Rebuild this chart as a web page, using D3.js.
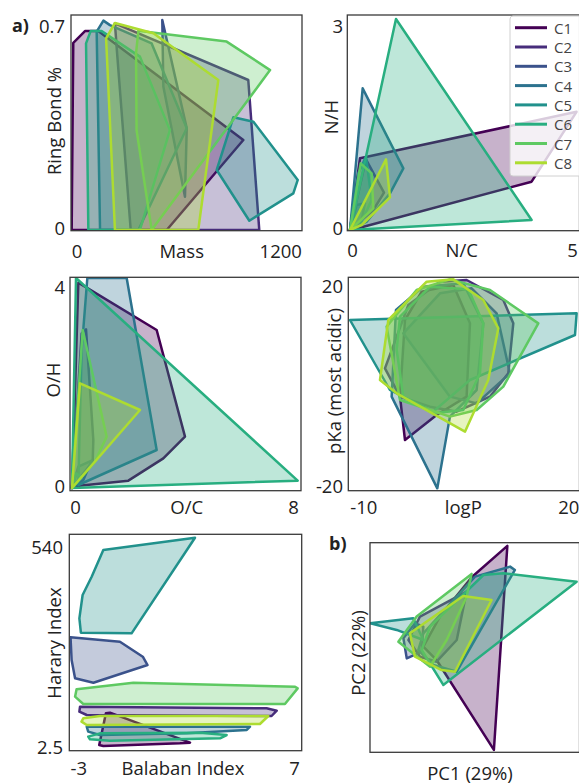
<!DOCTYPE html>
<html><head><meta charset="utf-8">
<script src="https://cdn.jsdelivr.net/npm/d3@7"></script>
<style>body{margin:0;background:#fff}svg{display:block}text{font-family:"Open Sans",sans-serif;fill:#222}</style>
</head><body><svg id="c" width="579" height="783"></svg>
<script>
const classes = ["C1","C2","C3","C4","C5","C6","C7","C8"];

// Panel 1: Mass vs Ring Bond %
const massTicks = [0, 1200];
const ringTicks = [0, 0.7];
const massRingHulls = [
  [[1,0],[10,0.624],[76,0.663],[151,0.663],[969,0.30],[537,0]],
  [[245,0.689],[997,0.50],[1059,0],[334,0],[255,0.606]],
  [[512,0.70],[650,0.339],[640,0.111],[518,0.478]],
  [[180,0.698],[217,0.683],[452,0.622],[650,0.339],[377,0],[161,0],[142,0.661]],
  [[913,0.376],[1026,0.361],[1276,0.167],[1251,0.122],[1003,0.031],[819,0.2]],
  [[82,0.622],[108,0.663],[170,0.663],[386,0.578],[555,0.333],[386,0],[95,0]],
  [[377,0.664],[490,0.656],[875,0.628],[1120,0.533],[452,0],[367,0.333],[364,0.589]],
  [[245,0.69],[462,0.656],[828,0.5],[715,0],[245,0],[195,0.639]]
];

// Panel 2: N/C vs N/H
const ncTicks = [0, 5];
const nhTicks = [0, 3];
const ncNhHulls = [
  [[0,0],[0.22,1.02],[4.99,1.68],[4.0,0.687],[0.257,0.038]],
  [[0,0],[0.352,1.005],[0.749,0.531],[0.514,0.284]],
  [[0,0],[0.147,0.355],[0.33,0.379],[0.257,0.142]],
  [[0,0],[0.279,2.014],[1.175,0.877],[0.881,0.521],[0.367,0.118]],
  [[0,0],[0.184,0.806],[0.352,1.043],[0.477,0.427],[0.22,0.071]],
  [[0,0],[1.013,3.0],[4.0,0.142]],
  [[0,0],[0.235,0.948],[0.477,0.806],[0.514,0.308]],
  [[0,0],[0.793,1.005],[0.881,0.464],[0.257,0.071]]
];

// Panel 3: O/C vs O/H
const ocTicks = [0, 8];
const ohTicks = [0, 4];
const ocOhHulls = [
  [[0,0],[0.224,3.911],[2.997,3.01],[4.0,0.978],[3.233,0.565],[1.994,0.14],[0.165,0.038]],
  [[0,0],[0.342,2.946],[0.496,3.022],[0.755,0.914],[0.732,0.502]],
  [[0,0],[0.224,0.406],[0.696,0.521],[0.401,0.152]],
  [[0.543,4.0],[1.935,4.0],[2.997,0.724],[0.224,0.057],[0.342,2.629]],
  [[0,0],[0.142,0.279],[0.342,0.203]],
  [[0,0],[0.142,4.0],[7.988,0.14]],
  [[0,0],[0.378,3.01],[1.227,0.978],[0.814,0.502]],
  [[0,0],[0.283,1.994],[2.407,1.486]]
];

// Panel 4: logP vs pKa (most acidic)
const logpTicks = [-10, 20];
const pkaTicks = [-20, 20];
const logpPkaHulls = [
  [[-3.9,-11.0],[-4.63,-2.33],[-3.9,13.0],[-1.46,18.67],[3.17,20.0],[5.61,12.33],[5.12,-2.33],[0.73,-6.0]],
  [[-6.83,3.33],[-3.41,16.0],[1.22,20.67],[5.12,21.0],[10.49,17.0],[11.95,12.33],[11.22,2.33],[8.54,-2.33],[3.66,-5.33],[-0.24,-4.33],[-4.63,-2.33]],
  [[-4.15,10.33],[1.22,18.33],[5.85,19.33],[9.51,14.33],[11.46,2.33],[6.59,-3.67],[2.68,-2.33]],
  [[-5.85,-2.33],[-5.22,15.0],[-1.22,19.67],[4.63,20.33],[7.56,12.33],[6.59,-1.0],[2.68,-6.33],[0.83,-20.67]],
  [[-11.95,13.0],[21.22,14.33],[20.98,10.0],[5.61,1.0],[0.24,-5.33],[-6.1,-1.0]],
  [[-4.63,13.67],[-0.24,19.67],[5.37,19.13],[7.56,12.33],[7.07,2.33],[4.63,-5.0],[0.24,-5.67],[-4.15,-2.33],[-5.12,7.0]],
  [[-6.59,11.67],[-2.2,19.0],[2.68,21.13],[8.54,19.0],[15.61,12.33],[10.49,-0.33],[6.59,-5.0],[2.68,-6.33],[-4.63,-3.0]],
  [[-7.56,1.0],[-6.34,13.0],[-0.73,20.67],[3.17,21.13],[7.56,17.0],[9.76,11.33],[8.29,1.0],[4.88,-9.33],[-5.12,-1.67]]
];

// Panel 5: Balaban Index vs Harary Index
const balabanTicks = [-3, 7];
const hararyTicks = [2.5, 540];
const balabanHararyHulls = [
  [[-1.72,90.2],[-1.53,92.0],[2.18,11.5],[1.71,9.7],[-1.84,2.5],[-2.03,5.2]],
  [[-2.92,108.1],[5.73,103.6],[6.2,97.3],[5.96,83.0],[-2.61,85.7],[-2.95,94.6]],
  [[-3.36,294.1],[-1.07,282.4],[-0.01,242.2],[0.21,219.8],[-2.30,172.4],[-3.15,184.1],[-3.31,233.3]],
  [[-2.61,54.4],[4.96,54.4],[4.81,45.5],[2.02,36.5],[-2.0,32.0],[-2.54,41.0]],
  [[-1.84,528.4],[2.41,561.5],[-0.53,304.8],[-2.88,306.6],[-2.95,345.0],[-2.80,407.6],[-2.38,456.8]],
  [[-2.54,27.6],[-2.0,36.5],[2.64,38.3],[3.88,32.0],[3.57,23.1],[-1.53,16.8],[-2.46,20.4]],
  [[-3.08,154.6],[-0.45,172.4],[7.05,161.7],[7.17,157.2],[6.58,115.2],[-2.77,115.2],[-3.15,134.9]],
  [[-2.77,76.8],[-2.0,83.0],[5.81,83.0],[5.42,61.6],[-2.61,58.9],[-2.85,67.8]]
];

// Panel 6: PCA scores (PC1 29%, PC2 22%)
const pcaHulls = [
  [[3.54,4.86],[2.9,-4.9],[0.17,-0.6],[-0.46,0.04],[0.33,1.48],[1.84,3.36]],
  [[-1.17,0.36],[-0.62,1.48],[1.6,2.67],[1.13,0.36],[0.17,-0.68],[-0.62,-0.44]],
  [[-1.41,0.44],[-1.25,-0.52],[-0.54,-0.2],[-0.46,1.0],[-0.86,1.16]],
  [[-0.46,0.68],[2.0,3.39],[3.67,3.87],[3.9,3.71],[1.13,-1.16],[0.02,-0.84],[-0.7,-0.12]],
  [[-3.0,1.16],[-0.94,1.4],[-0.46,0.36],[-1.73,0.84]],
  [[-0.14,1.0],[2.4,3.47],[3.35,3.55],[6.84,3.15],[0.49,-1.79],[-0.54,-0.12]],
  [[-1.65,0.28],[-0.78,1.48],[1.84,3.52],[1.6,2.43],[0.65,0.36],[-0.14,-0.92]],
  [[-1.1,0.68],[1.44,2.46],[2.79,2.27],[1.05,-1.16],[0.41,-1.08],[-0.86,-0.44]]
];

const color = d3.scaleOrdinal().domain(classes)
  .range(classes.map((c,i)=>d3.interpolateViridis(i/8)));

const svg = d3.select("#c");
const FS = 18.5;

function panel(o){
  const [x0,y0,x1,y1] = o.frame;
  const x = d3.scaleLinear().domain(o.xDomain).range(o.xRange);
  const y = d3.scaleLinear().domain(o.yDomain).range(o.yRange);
  const g = svg.append("g");
  const id = "clip"+o.id;
  g.append("clipPath").attr("id",id).append("rect")
    .attr("x",x0).attr("y",y0).attr("width",x1-x0).attr("height",y1-y0);
  const line = d3.line().x(d=>x(d[0])).y(d=>y(d[1])).curve(d3.curveLinearClosed);
  g.append("g").attr("clip-path",`url(#${id})`)
    .selectAll("path").data(o.hulls).join("path")
    .attr("d",d=>line(d))
    .attr("fill",(d,i)=>color(classes[i])).attr("fill-opacity",0.3)
    .attr("stroke",(d,i)=>color(classes[i])).attr("stroke-width",2.5)
    .attr("stroke-linejoin","round");
  g.append("rect").attr("x",x0).attr("y",y0).attr("width",x1-x0).attr("height",y1-y0)
    .attr("fill","none").attr("stroke","#3a3a3a").attr("stroke-width",1.3);
  if (o.xTicks){
    const ax = g.append("g").attr("transform",`translate(0,${o.xLabelY})`)
      .call(d3.axisBottom(x).tickValues(o.xTicks).tickSize(0).tickFormat(d=>String(d)));
    ax.attr("font-size",null).attr("font-family",null);
    ax.select(".domain").remove();
    ax.selectAll("text").attr("y",0).attr("dy",null).attr("dominant-baseline","central")
      .attr("dx",(d,i)=>(o.xDx||[])[i]||0).style("font-size",FS+"px").attr("fill","#222");
  }
  if (o.yTicks){
    const ay = g.append("g").attr("transform",`translate(${o.yLabelX},0)`)
      .call(d3.axisLeft(y).tickValues(o.yTicks).tickSize(0).tickFormat(d=>String(d)));
    ay.attr("font-size",null).attr("font-family",null);
    ay.select(".domain").remove();
    ay.selectAll("text").attr("x",0).attr("dy",null).attr("dominant-baseline","central")
      .attr("transform",(d,i)=>`translate(0,${(o.yDy||[])[i]||0})`)
      .style("font-size",FS+"px").attr("fill","#222");
  }
  g.append("text").attr("x",o.xTitle[1]).attr("y",o.xTitle[2]).attr("text-anchor","middle")
    .attr("dominant-baseline","central").style("font-size",FS+"px").text(o.xTitle[0]);
  g.append("text").attr("transform",`translate(${o.yTitle[1]},${o.yTitle[2]}) rotate(-90)`)
    .attr("text-anchor","middle").attr("dominant-baseline","central")
    .style("font-size",FS+"px").text(o.yTitle[0]);
  return {x,y};
}

panel({id:1, frame:[71,15,302,230.7], hulls:massRingHulls,
  xDomain:[0,1300], xRange:[71.5,302], yDomain:[0,0.7], yRange:[230,20],
  xTicks:massTicks, xLabelY:250, xDx:[5,-4], yTicks:ringTicks, yLabelX:65, yDy:[-3,5],
  xTitle:["Mass",181.7,250], yTitle:["Ring Bond %",53,121]});

panel({id:2, frame:[347.3,15,579.5,230.7], hulls:ncNhHulls,
  xDomain:[0,5], xRange:[350,577], yDomain:[0,3], yRange:[230,19],
  xTicks:ncTicks, xLabelY:249, xDx:[2,-5], yTicks:nhTicks, yLabelX:343, yDy:[-3,6],
  xTitle:["N/C",461.7,249], yTitle:["N/H",330,117]});

panel({id:3, frame:[70,277.3,301,490.7], hulls:ocOhHulls,
  xDomain:[0,8], xRange:[72,298], yDomain:[0,4], yRange:[488,278],
  xTicks:ocTicks, xLabelY:506, xDx:[3,-5], yTicks:ohTicks, yLabelX:65, yDy:[-3,8],
  xTitle:["O/C",186.7,506], yTitle:["O/H",52,380]});

panel({id:4, frame:[348.3,277.3,579.5,490.7], hulls:logpPkaHulls,
  xDomain:[-10,20], xRange:[363.3,568.3], yDomain:[-20,20], yRange:[485,285],
  xTicks:logpTicks, xLabelY:506, yTicks:pkaTicks, yLabelX:343,
  xTitle:["logP",463.3,506], yTitle:["pKa (most acidic)",333,381]});

panel({id:5, frame:[69.3,534.3,301.7,750.7], hulls:balabanHararyHulls,
  xDomain:[-3,7], xRange:[78.3,294], yDomain:[540,2.5], yRange:[545.7,746],
  xTicks:balabanTicks, xLabelY:767, yTicks:hararyTicks, yLabelX:63,
  xTitle:["Balaban Index",183,767], yTitle:["Harary Index",53,643]});

panel({id:6, frame:[370,542.7,579.5,752.3], hulls:pcaHulls,
  xDomain:[-3,7], xRange:[370,580], yDomain:[-5,5], yRange:[752,543],
  xTitle:["PC1 (29%)",470,772], yTitle:["PC2 (22%)",357,653]});

// panel tags
svg.append("text").attr("x",12).attr("y",25).attr("dominant-baseline","central")
  .style("font-size","18px").style("font-weight","bold").text("a)");
svg.append("text").attr("x",329).attr("y",543).attr("dominant-baseline","central")
  .style("font-size","18px").style("font-weight","bold").text("b)");

// legend
const lg = svg.append("g");
lg.append("rect").attr("x",510).attr("y",16).attr("width",75).attr("height",160)
  .attr("rx",3).attr("fill","#fff").attr("fill-opacity",0.8).attr("stroke","#d0d0d0");
const rows = lg.selectAll("g.row").data(classes).join("g").attr("class","row")
  .attr("transform",(d,i)=>`translate(0,${27.7+i*19.3})`);
rows.append("line").attr("x1",515).attr("x2",547).attr("stroke",d=>color(d)).attr("stroke-width",3);
rows.append("text").attr("x",554).attr("dominant-baseline","central")
  .style("font-size","15px").style("fill","#444").text(d=>d);
</script></body></html>
